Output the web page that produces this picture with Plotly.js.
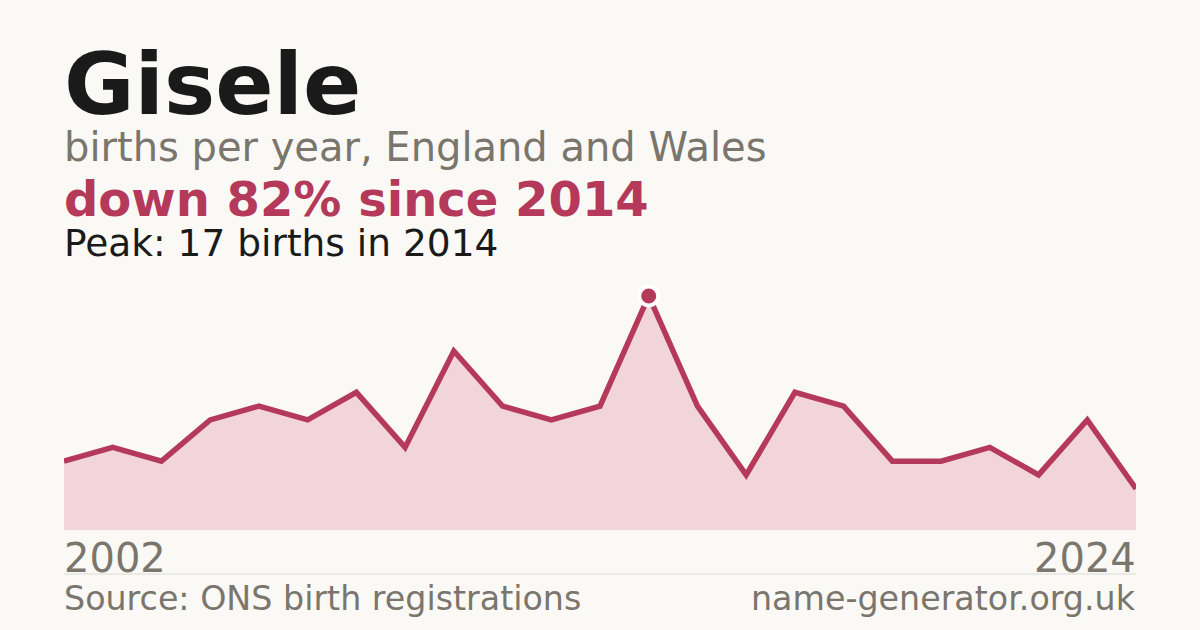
<!DOCTYPE html>
<html>
<head>
<meta charset="utf-8">
<script src="https://cdn.plot.ly/plotly-3.0.1.min.js"></script>
<style>
html,body{margin:0;padding:0;background:#faf9f5;}
#chart{width:1200px;height:630px;}
</style>
</head>
<body>
<div id="chart"></div>
<script>
const years = [2002,2003,2004,2005,2006,2007,2008,2009,2010,2011,2012,2013,2014,2015,2016,2017,2018,2019,2020,2021,2022,2023,2024];
const births = [5,6,5,8,9,8,10,6,13,9,8,9,17,9,4,10,9,5,5,6,4,8,3];
const peakYear = [2014];
const peakValue = [17];
const titleText = "Gisele";
const subtitleText = "births per year, England and Wales";
const changeText = "down 82% since 2014";
const peakText = "Peak: 17 births in 2014";
const startLabel = "2002";
const endLabel = "2024";
const sourceText = "Source: ONS birth registrations";
const siteText = "name-generator.org.uk";

const red = "#b5395a";
const gray = "#7a756d";
const font = "DejaVu Sans, sans-serif";

const traces = [
  {
    x: years, y: births, type: "scatter", mode: "lines",
    fill: "tozeroy", fillcolor: "#f2d5db",
    line: {color: red, width: 5.5, shape: "linear"},
    hoverinfo: "skip"
  },
  {
    x: peakYear, y: peakValue, type: "scatter", mode: "markers",
    marker: {size: 19, color: red, line: {color: "#ffffff", width: 4}},
    cliponaxis: false, hoverinfo: "skip"
  }
];

function ann(text, x, y, xanchor, size, color, bold) {
  return {
    text: bold ? "<b>" + text + "</b>" : text,
    xref: "paper", yref: "paper", x: x, y: y,
    xanchor: xanchor, yanchor: "middle", showarrow: false,
    borderpad: 0, borderwidth: 0,
    font: {family: font, size: size, color: color}
  };
}

const layout = {
  width: 1200, height: 630,
  paper_bgcolor: "#faf9f5", plot_bgcolor: "rgba(0,0,0,0)",
  margin: {l: 64, r: 64, t: 280, b: 100, pad: 0},
  showlegend: false,
  xaxis: {range: [2002, 2024], showgrid: false, zeroline: false, showticklabels: false, ticks: "", showline: false, fixedrange: true},
  yaxis: {range: [0, 18.16], showgrid: false, zeroline: false, showticklabels: false, ticks: "", showline: false, fixedrange: true},
  annotations: [
    ann(titleText, 0.0, 1.785, "left", 86, "#1a1a1a", true),
    ann(subtitleText, 0.0, 1.531, "left", 40, gray, false),
    ann(changeText, 0.0, 1.324, "left", 48, red, true),
    ann(peakText, 0.0, 1.149, "left", 37.5, "#1a1a1a", false),
    ann(startLabel, 0.0, -0.113, "left", 40, gray, false),
    ann(endLabel, 1.0, -0.113, "right", 40, gray, false),
    ann(sourceText, 0.0, -0.274, "left", 33.3, gray, false),
    ann(siteText, 1.0, -0.274, "right", 33.3, gray, false)
  ],
  shapes: [
    {type: "line", xref: "paper", yref: "paper", x0: 0, x1: 1, y0: -0.176, y1: -0.176,
     line: {color: "#dcd9d2", width: 1}}
  ]
};

Plotly.newPlot("chart", traces, layout, {displayModeBar: false, staticPlot: true});
</script>
</body>
</html>
